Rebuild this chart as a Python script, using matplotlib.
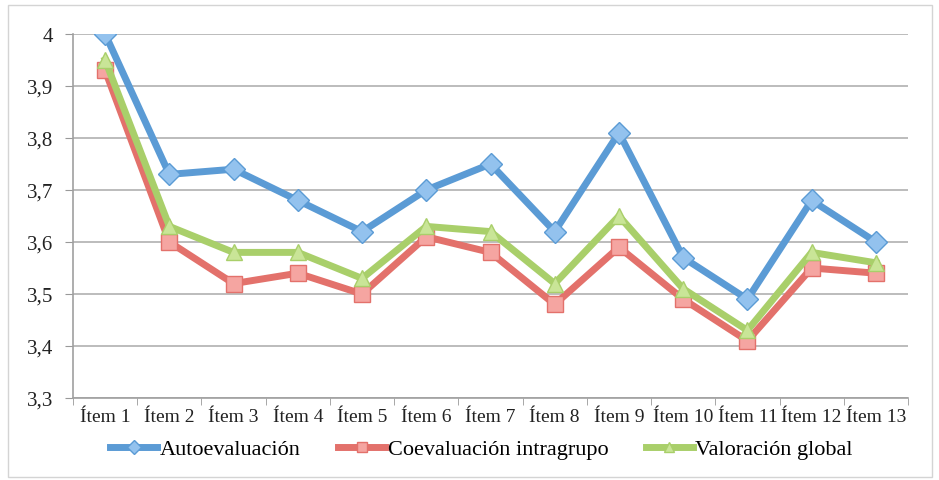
import matplotlib
matplotlib.use("Agg")
import matplotlib.pyplot as plt
from matplotlib.patches import Rectangle
from matplotlib.ticker import FixedLocator, FuncFormatter
import numpy as np

categories = ["Ítem 1", "Ítem 2", "Ítem 3", "Ítem 4", "Ítem 5", "Ítem 6", "Ítem 7",
              "Ítem 8", "Ítem 9", "Ítem 10", "Ítem 11", "Ítem 12", "Ítem 13"]
autoevaluacion = [4.00, 3.73, 3.74, 3.68, 3.62, 3.70, 3.75, 3.62, 3.81, 3.57, 3.49, 3.68, 3.60]
coevaluacion = [3.93, 3.60, 3.52, 3.54, 3.50, 3.61, 3.58, 3.48, 3.59, 3.49, 3.41, 3.55, 3.54]
valoracion = [3.95, 3.63, 3.58, 3.58, 3.53, 3.63, 3.62, 3.52, 3.65, 3.51, 3.43, 3.58, 3.56]
series_names = ["Autoevaluación", "Coevaluación intragrupo", "Valoración global"]
yticks = [3.3, 3.4, 3.5, 3.6, 3.7, 3.8, 3.9, 4.0]

plt.rcParams['font.family'] = ['Liberation Serif', 'DejaVu Serif']

fig = plt.figure(figsize=(9.39, 4.81), dpi=100)
fig.patches.append(Rectangle((8/939, 3/481), 924/939, 472/481, transform=fig.transFigure,
                             fill=False, edgecolor='#d4d4d4', linewidth=1))
ax = fig.add_axes([73/939, 1 - 399/481, 835/939, 364/481])

x = np.arange(len(categories))
styles = [
    (autoevaluacion, '#5b9bd5', '#93c2ee', 'D', 11),
    (coevaluacion, '#e3716b', '#f5a5a1', 's', 12),
    (valoracion, '#a9cf6a', '#c9e597', '^', 12),
]
handles = []
for (vals, col, mfc, mk, ms), name in zip(styles, series_names):
    h, = ax.plot(x, vals, color=col, linewidth=5, marker=mk, markersize=ms,
                 markerfacecolor=mfc, markeredgecolor=col, markeredgewidth=1,
                 label=name, zorder=3, solid_joinstyle='round')
    handles.append(h)

ax.set_xlim(-0.5, len(categories) - 0.5)
ax.set_ylim(3.3, 4.0)
ax.yaxis.set_major_locator(FixedLocator(yticks))
ax.yaxis.set_major_formatter(FuncFormatter(lambda v, p: ('%g' % round(v, 1)).replace('.', ',')))
ax.set_xticks(x)
ax.set_xticklabels(categories)
ax.set_xticks(np.arange(-0.5, len(categories)), minor=True)
ax.tick_params(axis='x', which='major', length=0, labelsize=14, pad=7, labelcolor='#222222')
ax.tick_params(axis='x', which='minor', length=5, color='#999999', direction='out')
ax.tick_params(axis='y', length=6, color='#999999', labelsize=15, pad=8, labelcolor='#222222')
ax.grid(axis='y', color='#b0b0b0', linewidth=1.2)
ax.set_axisbelow(True)
for s in ['top', 'right']:
    ax.spines[s].set_visible(False)
for s in ['left', 'bottom']:
    ax.spines[s].set_color('#a0a0a0')
    ax.spines[s].set_linewidth(1.2)

leg = fig.legend(handles=handles, loc='center', bbox_to_anchor=(0.513, 1 - 450/481), ncol=3,
                 frameon=False, fontsize=16, handlelength=2.1, handletextpad=0.12,
                 columnspacing=1.7, borderpad=0)
for lh in leg.legend_handles:
    lh.set_markersize(7)

fig.savefig("out.png", dpi=100)
